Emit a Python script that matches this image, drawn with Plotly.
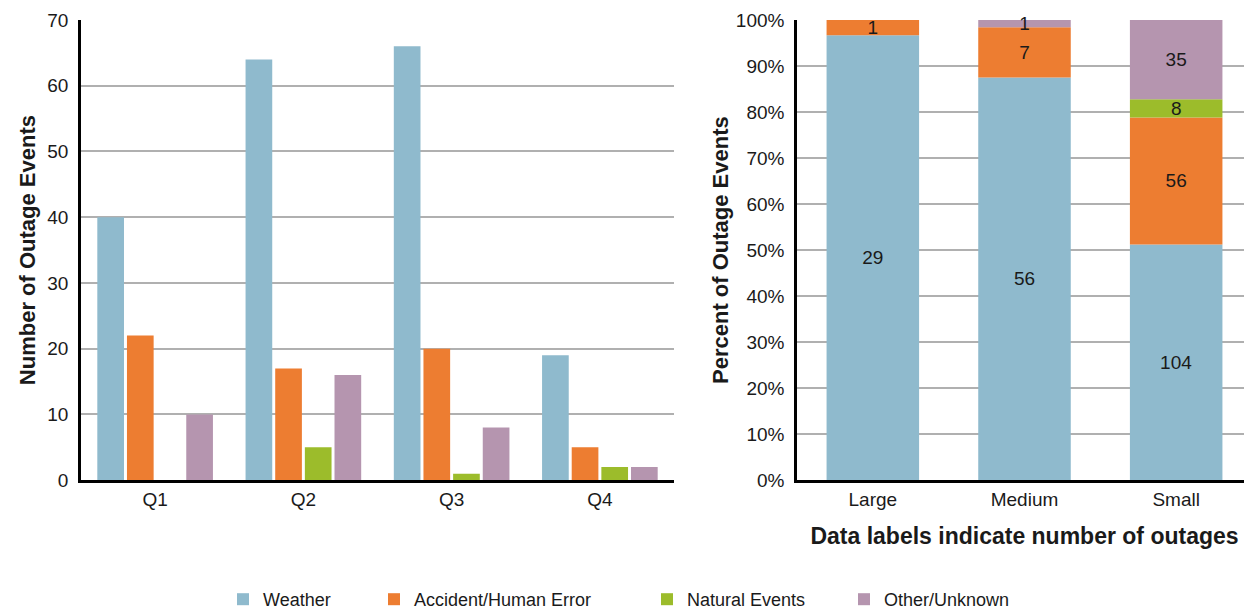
import plotly.graph_objects as go

quarters = ["Q1", "Q2", "Q3", "Q4"]
sizes = ["Large", "Medium", "Small"]
series = ["Weather", "Accident/Human Error", "Natural Events", "Other/Unknown"]
colors = ["#8fbacd", "#ed7d31", "#9cbc2b", "#b595af"]

# Left chart: number of outage events by quarter
weather_q = [40, 64, 66, 19]
accident_q = [22, 17, 20, 5]
natural_q = [0, 5, 1, 2]
other_q = [10, 16, 8, 2]

# Right chart: number of outages by size
weather_s = [29, 56, 104]
accident_s = [1, 7, 56]
natural_s = [0, 0, 8]
other_s = [0, 1, 35]

left_vals = [weather_q, accident_q, natural_q, other_q]
right_vals = [weather_s, accident_s, natural_s, other_s]

FONT = "Liberation Sans, Arial, Helvetica, sans-serif"
TICK = 19
TITLE = 22
W, H = 1252, 610
OFF = 8  # page body margin

def px_x(p):
    return (p - OFF) / W

def px_y(p):
    return 1 - (p - OFF) / H

fig = go.Figure()

legend_ids = ["legend", "legend2", "legend3", "legend4"]
for name, col, vals, lg in zip(series, colors, left_vals, legend_ids):
    fig.add_trace(go.Bar(x=quarters, y=vals, name=name, marker_color=col,
                         marker_line_width=0, xaxis="x", yaxis="y",
                         showlegend=True, legend=lg, hoverinfo="x+y+name"))

totals = [sum(v[i] for v in right_vals) for i in range(len(sizes))]
cum = [0.0] * len(sizes)
for name, col, vals in zip(series, colors, right_vals):
    pct = [100.0 * v / t for v, t in zip(vals, totals)]
    fig.add_trace(go.Bar(x=sizes, y=pct, base=list(cum), name=name, marker_color=col,
                         marker_line_width=0, xaxis="x2", yaxis="y2",
                         offsetgroup="s", width=0.61, showlegend=False,
                         text=[str(v) if v else "" for v in vals],
                         textposition="inside", insidetextanchor="middle",
                         textangle=0, cliponaxis=False,
                         textfont=dict(color="#1a1a1a", size=TICK, family=FONT)))
    cum = [c + p for c, p in zip(cum, pct)]

grid = "#b0b0b0"
top, bottom = px_y(20), px_y(481)
fig.update_layout(
    width=W, height=H,
    margin=dict(l=0, r=0, t=0, b=0),
    paper_bgcolor="white", plot_bgcolor="white",
    barmode="group", bargap=0.2, bargroupgap=0.1,
    uniformtext=dict(minsize=TICK, mode="show"),
    font=dict(family=FONT, color="#1a1a1a", size=TICK),
    xaxis=dict(domain=[px_x(81), px_x(674)], anchor="y", showline=True, linecolor="black",
               linewidth=2.5, ticks="", tickfont=dict(size=TICK), showgrid=False,
               automargin=False),
    yaxis=dict(domain=[bottom, top], anchor="x", range=[0, 70], dtick=10,
               showline=True, linecolor="black", linewidth=2.5, ticks="",
               gridcolor=grid, gridwidth=1.5, zeroline=False, automargin=False,
               tickfont=dict(size=TICK), ticklabelstandoff=6,
               title=dict(text="<b>Number of Outage Events</b>", font=dict(size=TITLE), standoff=6)),
    xaxis2=dict(domain=[px_x(797), px_x(1252)], anchor="y2", showline=True, linecolor="black",
                linewidth=2.5, ticks="", tickfont=dict(size=TICK), showgrid=False,
                automargin=False,
                title=dict(text="<b>Data labels indicate number of outages</b>",
                           font=dict(size=23), standoff=20)),
    yaxis2=dict(domain=[bottom, top], anchor="x2", range=[0, 100], dtick=10,
                ticksuffix="%", showline=True, linecolor="black", linewidth=2.5,
                ticks="", gridcolor=grid, gridwidth=1.5, zeroline=False, automargin=False,
                tickfont=dict(size=TICK), ticklabelstandoff=6,
                title=dict(text="<b>Percent of Outage Events</b>", font=dict(size=TITLE), standoff=2)),
)

swatch_centers = [243, 394, 667, 864]
for lg, cx in zip(legend_ids, swatch_centers):
    fig.update_layout({lg: dict(orientation="h", x=px_x(cx - 20), xanchor="left",
                                y=px_y(600), yanchor="middle",
                                font=dict(size=18), itemwidth=30,
                                bgcolor="rgba(0,0,0,0)")})

fig.write_html("out.html")
